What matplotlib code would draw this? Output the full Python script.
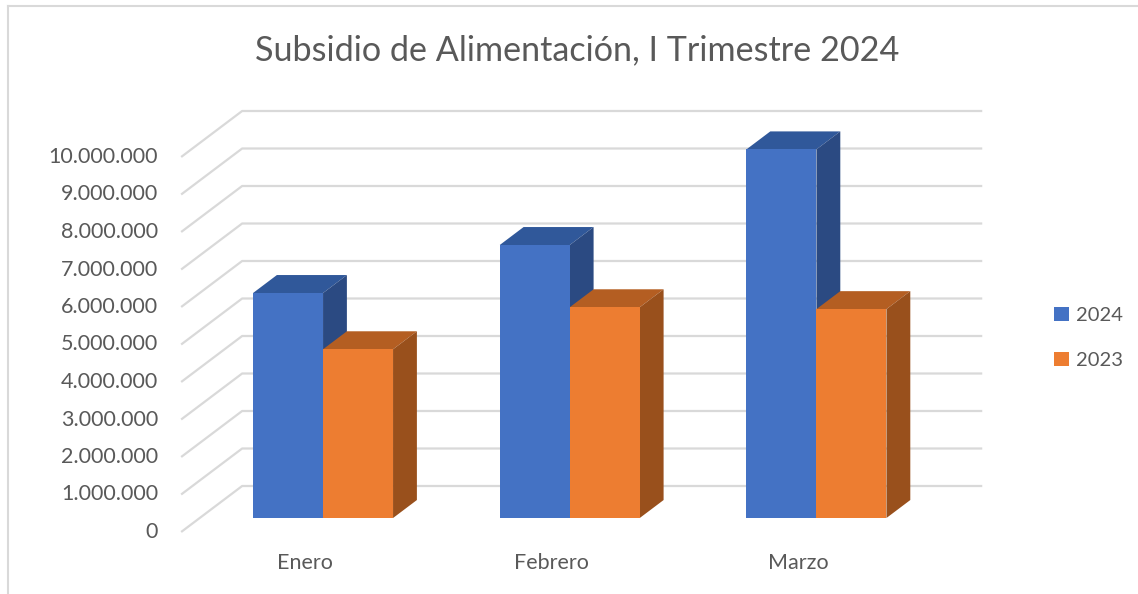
import matplotlib
matplotlib.use("Agg")
import matplotlib.pyplot as plt
from matplotlib.patches import Polygon
from matplotlib.lines import Line2D
import numpy as np

# ---- data ----
categories = ["Enero", "Febrero", "Marzo"]
series_names = ["2024", "2023"]
values_2024 = [6.00, 7.28, 9.83]   # millions
values_2023 = [4.50, 5.62, 5.57]   # millions
tick_values = list(range(0, 11))
tick_labels = ["0", "1.000.000", "2.000.000", "3.000.000", "4.000.000", "5.000.000",
               "6.000.000", "7.000.000", "8.000.000", "9.000.000", "10.000.000"]

plt.rcParams['font.family'] = ['Lato', 'DejaVu Sans']

W, H = 1138, 594
fig = plt.figure(figsize=(W / 100, H / 100), dpi=100)
ax = fig.add_axes([0, 0, 1, 1])
ax.set_axis_off()

# pixel mapping
px_per_x = 246.7
x0_px = 304.5
px_per_v = 37.5
v0_px = 532.0
ax.set_xlim((0 - x0_px) / px_per_x, (W - x0_px) / px_per_x)
ax.set_ylim(-(H - v0_px) / px_per_v, v0_px / px_per_v)

DX = 61 / px_per_x
DY = 46 / px_per_v
d0, d1 = 0.304, 0.695
bw = 70 / px_per_x

grid_c = "#D9D9D9"
txt_c = "#595959"

# gridlines (side wall + back wall)
x_left, x_right = -0.5, 2.5
for v in tick_values:
    ax.plot([x_left, x_left + DX, x_right + DX], [v, v + DY, v + DY],
            color=grid_c, lw=1.6, zorder=1, solid_capstyle='butt')
    ax.text(x_left - 23 / px_per_x, v, tick_labels[v], ha='right', va='center',
            fontsize=15.5, color=txt_c)

colors = {"2024": ("#4472C4", "#30589A", "#2B4A82"),
          "2023": ("#ED7D31", "#B45E22", "#99501C")}
offsets = {"2024": -bw, "2023": 0.0}
series_vals = {"2024": values_2024, "2023": values_2023}

xs = np.arange(len(categories))
handles = []
for name in series_names:
    front, top, side = colors[name]
    vals = series_vals[name]
    lefts = xs + offsets[name] + d0 * DX
    bars = ax.bar(lefts, vals, width=bw, bottom=d0 * DY, align='edge',
                  color=front, edgecolor='none', zorder=3, label=name)
    handles.append(bars)
    ddx = (d1 - d0) * DX
    ddy = (d1 - d0) * DY
    for lx, v in zip(lefts, vals):
        ytop = d0 * DY + v
        ybot = d0 * DY
        # top face
        ax.add_patch(Polygon([(lx, ytop), (lx + bw, ytop), (lx + bw + ddx, ytop + ddy),
                              (lx + ddx, ytop + ddy)], closed=True,
                             facecolor=top, edgecolor='none', zorder=2.5))
        # side face
        ax.add_patch(Polygon([(lx + bw, ybot), (lx + bw + ddx, ybot + ddy),
                              (lx + bw + ddx, ytop + ddy), (lx + bw, ytop)], closed=True,
                             facecolor=side, edgecolor='none', zorder=2.5))

# category labels
for i, c in enumerate(categories):
    ax.text(xs[i], -(563 - v0_px) / px_per_v, c, ha='center', va='center',
            fontsize=15.5, color=txt_c)

# title
fig.text(577 / W, 1 - 50 / H, "Subsidio de Alimentación, I Trimestre 2024",
         ha='center', va='center', fontsize=24.6, color=txt_c)

# legend
leg = fig.legend(handles=handles, labels=series_names, loc='center left',
                 bbox_to_anchor=(1044 / W, 1 - 338 / H), frameon=False,
                 fontsize=14.5, handlelength=0.72, handleheight=0.72,
                 handletextpad=0.35, labelspacing=1.4, borderpad=0)
for t in leg.get_texts():
    t.set_color(txt_c)

# chart border (top and left visible)
fig.add_artist(Line2D([7.5 / W, 7.5 / W], [0, 1 - 5.5 / H], transform=fig.transFigure,
                      color=grid_c, lw=1.5))
fig.add_artist(Line2D([7.5 / W, 1], [1 - 5.5 / H, 1 - 5.5 / H], transform=fig.transFigure,
                      color=grid_c, lw=1.5))

fig.savefig("out.png", dpi=100, facecolor='white')
